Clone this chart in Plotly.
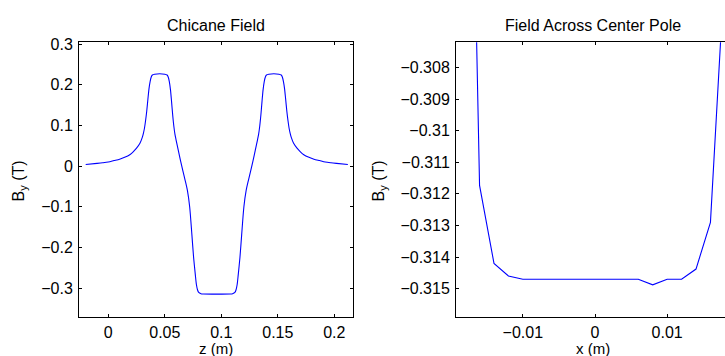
import plotly.graph_objects as go

# ---------------- data ----------------
z_m = [-0.020, -0.010, -0.005, 0.000, 0.005, 0.010, 0.015, 0.019, 0.022, 0.025,
       0.028, 0.030, 0.031, 0.032, 0.033, 0.034, 0.035, 0.036, 0.037, 0.038,
       0.039, 0.041, 0.050, 0.052, 0.053, 0.054, 0.055, 0.056, 0.057, 0.058,
       0.059, 0.060, 0.062, 0.064, 0.066, 0.068, 0.070, 0.072, 0.074, 0.0755,
       0.077, 0.078, 0.079, 0.080, 0.082, 0.084,
       0.108, 0.110, 0.112, 0.113, 0.114, 0.115, 0.1165, 0.118, 0.120, 0.122,
       0.124, 0.126, 0.128, 0.130, 0.132, 0.133, 0.134, 0.135, 0.136, 0.137,
       0.138, 0.139, 0.140, 0.142, 0.151, 0.153, 0.154, 0.155, 0.156, 0.157,
       0.158, 0.159, 0.160, 0.161, 0.162, 0.164, 0.167, 0.170, 0.173, 0.177,
       0.182, 0.187, 0.192, 0.197, 0.202, 0.212]
by_chicane = [0.004, 0.0065, 0.008, 0.010, 0.0135, 0.017, 0.022, 0.028, 0.035, 0.044,
              0.056, 0.070, 0.080, 0.093, 0.112, 0.135, 0.163, 0.190, 0.208, 0.219,
              0.224, 0.226, 0.226, 0.224, 0.219, 0.208, 0.188, 0.158, 0.125, 0.098,
              0.078, 0.064, 0.038, 0.012, -0.012, -0.035, -0.060, -0.100, -0.170, -0.225,
              -0.267, -0.292, -0.305, -0.311, -0.314, -0.3147,
              -0.3147, -0.314, -0.311, -0.305, -0.292, -0.267, -0.225, -0.170, -0.100, -0.060,
              -0.035, -0.012, 0.012, 0.038, 0.064, 0.078, 0.098, 0.125, 0.158, 0.188,
              0.208, 0.219, 0.224, 0.226, 0.226, 0.224, 0.219, 0.208, 0.190, 0.163,
              0.135, 0.112, 0.093, 0.080, 0.070, 0.056, 0.044, 0.035, 0.028, 0.022,
              0.017, 0.0135, 0.010, 0.008, 0.0065, 0.004]

x_pole = [-0.018, -0.016, -0.014, -0.012, -0.010, -0.008, -0.006, -0.004, -0.002,
          0.000, 0.002, 0.004, 0.006, 0.008, 0.010, 0.012, 0.014, 0.016, 0.018]
by_pole = [-0.2894, -0.31173, -0.3142, -0.3146, -0.3147, -0.3147, -0.3147, -0.3147, -0.3147,
           -0.3147, -0.3147, -0.3147, -0.3147, -0.31488, -0.3147, -0.3147, -0.31438, -0.3129,
           -0.30475]

left_xticks = [0, 0.05, 0.1, 0.15, 0.2]
left_xticktext = ["0", "0.05", "0.1", "0.15", "0.2"]
left_yticks = [0.3, 0.2, 0.1, 0, -0.1, -0.2, -0.3]
left_yticktext = ["0.3", "0.2", "0.1", "0", "\u22120.1", "\u22120.2", "\u22120.3"]
right_xticks = [-0.01, 0, 0.01]
right_xticktext = ["\u22120.01", "0", "0.01"]
right_yticks = [-0.308, -0.309, -0.31, -0.311, -0.312, -0.313, -0.314, -0.315]
right_yticktext = ["\u22120.308", "\u22120.309", "\u22120.31", "\u22120.311",
                   "\u22120.312", "\u22120.313", "\u22120.314", "\u22120.315"]

titles = ["Chicane Field", "Field Across Center Pole"]
xlabels = ["z (m)", "x (m)"]
ylabel = "B<sub>y</sub> (T)"

# ---------------- layout helpers ----------------
W, H = 725, 356
FONT = dict(family="Liberation Sans, Arial, Helvetica, sans-serif", size=16, color="black")
XT_FONT = dict(FONT, size=15)


def px(x):
    return x / W


def py(y):
    return (H - y) / H


fig = go.Figure()
fig.add_trace(go.Scatter(x=z_m, y=by_chicane, mode="lines",
                         line=dict(color="#0000ff", width=1.1, shape="spline", smoothing=0.8),
                         xaxis="x", yaxis="y", showlegend=False, hoverinfo="skip"))
fig.add_trace(go.Scatter(x=x_pole, y=by_pole, mode="lines",
                         line=dict(color="#0000ff", width=1.1), xaxis="x2", yaxis="y2",
                         showlegend=False, hoverinfo="skip"))

axis_common = dict(showline=True, linecolor="black", linewidth=1, ticks="inside",
                   ticklen=3, tickcolor="black", tickwidth=1, showgrid=False,
                   zeroline=False, tickfont=FONT)

fig.update_layout(
    width=W, height=H,
    margin=dict(l=0, r=0, t=0, b=0),
    paper_bgcolor="white", plot_bgcolor="white",
    font=FONT,
    xaxis=dict(domain=[px(79), px(353)], range=[-0.02593, 0.21655], anchor="y",
               tickvals=left_xticks, ticktext=left_xticktext, mirror="ticks",
               ticklabelstandoff=1, **axis_common),
    yaxis=dict(domain=[py(316), py(36)], range=[-0.3708, 0.3045], anchor="x",
               tickvals=left_yticks, ticktext=left_yticktext, mirror="ticks",
               ticklabelstandoff=2, **axis_common),
    xaxis2=dict(domain=[px(456), 1.0], range=[-0.019265, 0.018018], anchor="y2",
                tickvals=right_xticks, ticktext=right_xticktext, mirror="ticks",
                ticklabelstandoff=1, **axis_common),
    yaxis2=dict(domain=[py(316), py(36)], range=[-0.31589, -0.307203], anchor="x2",
                tickvals=right_yticks, ticktext=right_yticktext, mirror=False,
                ticklabelstandoff=2, **axis_common),
)

annotations = [
    dict(text=titles[0], x=px(216), y=py(18.5), font=FONT),
    dict(text=titles[1], x=px(593), y=py(18.5), font=FONT),
    dict(text=xlabels[0], x=px(216), y=py(348.8), font=XT_FONT),
    dict(text=xlabels[1], x=px(593), y=py(348.8), font=XT_FONT),
    dict(text=ylabel, x=px(19), y=py(178), textangle=-90, font=FONT),
    dict(text=ylabel, x=px(379), y=py(178), textangle=-90, font=FONT),
]
for a in annotations:
    fig.add_annotation(xref="paper", yref="paper", showarrow=False,
                       xanchor="center", yanchor="middle", **a)

fig.write_html("out.html")
